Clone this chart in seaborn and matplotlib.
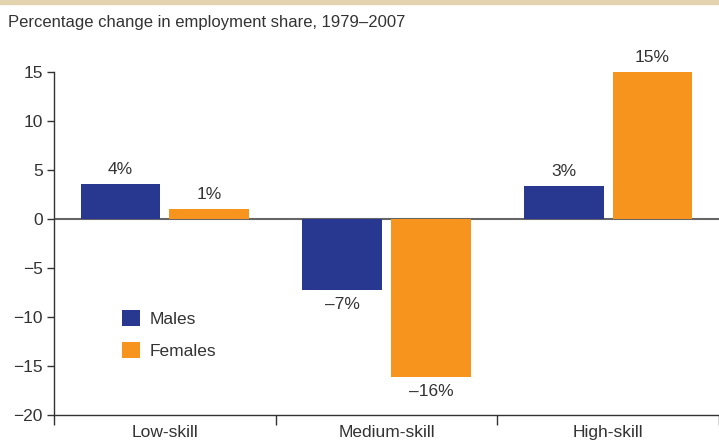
import matplotlib
matplotlib.use("Agg")
import matplotlib.pyplot as plt
import seaborn as sns
import pandas as pd
from matplotlib.patches import Rectangle

categories = ["Low-skill", "Medium-skill", "High-skill"]
groups = ["Males", "Females"]
males = [3.6, -7.2, 3.4]
females = [1.0, -16.1, 15.0]
male_labels = ["4%", "\u20137%", "3%"]
female_labels = ["1%", "\u201316%", "15%"]
yticks = [15, 10, 5, 0, -5, -10, -15, -20]

navy = "#283891"
orange = "#F7941E"
txt = "#333333"

df = pd.DataFrame({
    "skill": categories * 2,
    "sex": ["Males"] * 3 + ["Females"] * 3,
    "change": males + females,
})

sns.set_style("white")
plt.rcParams["font.family"] = ["Liberation Sans", "DejaVu Sans"]

fig = plt.figure(figsize=(7.19, 4.45), dpi=100)
ax = fig.add_axes([54 / 719, 1 - 415 / 445, 665 / 719, 343 / 445])

sns.barplot(data=df, x="skill", y="change", hue="sex", order=categories,
            hue_order=groups, palette=[navy, orange], width=0.8, gap=0.1,
            saturation=1, linewidth=0, ax=ax, legend=True)

ax.bar_label(ax.containers[0], labels=male_labels, padding=5, fontsize=12.5, color=txt)
ax.bar_label(ax.containers[1], labels=female_labels, padding=5, fontsize=12.5, color=txt)

ax.axhline(0, color="#666666", lw=1.5, zorder=0.5)

ax.set_ylim(-20, 15)
ax.set_xlim(-0.5, 2.44)
ax.set_yticks(yticks)
ax.tick_params(axis="y", direction="out", length=5, width=1, color=txt,
               labelsize=12.5, labelcolor=txt, left=True, pad=3)

ax.set_xticks([-0.5, 0.5, 1.5, 2.5])
ax.set_xticklabels([])
ax.set_xticks([0, 1, 2], minor=True)
ax.set_xticklabels(categories, minor=True)
ax.tick_params(axis="x", which="major", direction="out", length=7, width=1,
               color=txt, bottom=True)
ax.tick_params(axis="x", which="minor", length=0, labelsize=12.5,
               labelcolor=txt, pad=7)
ax.set_xlabel("")
ax.set_ylabel("")

for s in ["top", "right"]:
    ax.spines[s].set_visible(False)
for s in ["left", "bottom"]:
    ax.spines[s].set_color(txt)
    ax.spines[s].set_linewidth(1)

handles, labels = ax.get_legend_handles_labels()
ax.legend(handles, labels, loc="upper left", bbox_to_anchor=(0.102, 0.305),
          frameon=False, fontsize=12.5, handlelength=1.05, handleheight=1.05,
          handletextpad=0.55, labelspacing=0.85, borderpad=0, borderaxespad=0,
          labelcolor=txt)

fig.text(8 / 719, 1 - 22 / 445, "Percentage change in employment share, 1979\u20132007",
         fontsize=12, color=txt, va="center", ha="left")
fig.patches.append(Rectangle((0, 1 - 4 / 445), 1, 4 / 445, transform=fig.transFigure,
                             color="#E3D3AE", zorder=0))

fig.savefig("out.png", dpi=100)
